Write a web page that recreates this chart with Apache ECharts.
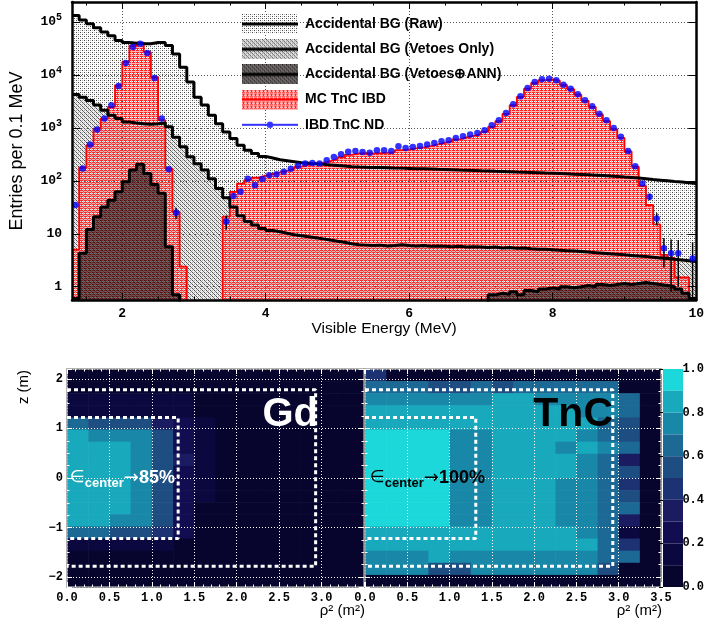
<!DOCTYPE html>
<html><head><meta charset="utf-8">
<script src="https://cdn.jsdelivr.net/npm/echarts@6/dist/echarts.min.js"></script>
<style>html,body{margin:0;padding:0;background:#fff}#c{width:707px;height:631px}</style>
</head><body><div id="c"></div>
<script>
// ---------------- DATA (top: visible energy spectrum, 0.1 MeV bins) ----------------
const binEdges = [1.3,1.4,1.5,1.6,1.7,1.8,1.9,2.0,2.1,2.2,
 2.3,2.4,2.5,2.6,2.7,2.8,2.9,3.0,3.1,3.2,
 3.3,3.4,3.5,3.6,3.7,3.8,3.9,4.0,4.1,4.2,
 4.3,4.4,4.5,4.6,4.7,4.8,4.9,5.0,5.1,5.2,
 5.3,5.4,5.5,5.6,5.7,5.8,5.9,6.0,6.1,6.2,
 6.3,6.4,6.5,6.6,6.7,6.8,6.9,7.0,7.1,7.2,
 7.3,7.4,7.5,7.6,7.7,7.8,7.9,8.0,8.1,8.2,
 8.3,8.4,8.5,8.6,8.7,8.8,8.9,9.0,9.1,9.2,
 9.3,9.4,9.5,9.6,9.7,9.8,9.9,10.0];

const accRaw = [134000,110000,93000,78000,65000,55000,45000,41000,40000,39000,
 39000,41000,41000,36000,25000,14000,7400,3800,2700,1740,
 1200,840,630,470,380,330,290,270,250,240,
 230,220,215,210,205,200,195,190,185,182,
 180,179,178,177,175,174,172,170,169,167,
 165,164,162,160,159,157,155,154,152,151,
 149,147,146,144,142,140,139,138,136,134,
 132,130,128,126,124,121,118,116,113,110,
 106,103,100,97,95,92,89];

const accVetoes = [4300,3800,3300,2700,2150,1740,1500,1300,1240,1200,
 1170,1200,1240,1050,670,440,285,210,160,110,
 72,48,32,22,17,14.6,12.6,11.5,10.9,10.2,
 9.6,9.2,8.8,8.4,8.0,7.6,7.2,6.9,6.5,6.2,
 6.1,6.0,6.1,5.9,6.0,6.2,6.0,5.9,6.0,5.8,
 5.9,5.8,5.7,5.8,5.6,5.7,5.6,5.5,5.6,5.4,
 5.5,5.3,5.4,5.2,5.1,5.1,5.0,4.9,4.8,4.7,
 4.6,4.5,4.4,4.3,4.2,4.1,4.0,3.9,3.8,3.7,
 3.6,3.5,3.4,3.3,3.2,3.1,3.0];

const accVetoANN = [0.6,4.3,12,21,32,43,62,96,160,205,
 138,85,58,5.7,0.7,0,0,0,0,0,
 0,0,0,0,0,0,0,0,0,0,
 0,0,0,0,0,0,0,0,0,0,
 0,0,0,0,0,0,0,0,0,0,
 0,0,0,0,0,0,0,0,0.7,0.75,
 0.72,0.8,0.7,0.85,0.8,0.9,0.95,0.9,1.0,0.95,
 1.0,1.05,1.0,1.1,1.05,1.1,1.15,1.1,1.15,1.2,
 1.15,1.1,1.05,1.0,0.9,0.75,0.6];

const mcTnC = [5,180,470,970,1500,2500,6400,17700,36000,41000,
 27000,9100,1400,170,26,2.4,0,0,0,0,
 0,21,62,89,103,115,125,135,145,155,
 168,185,200,210,220,235,255,280,310,330,
 335,330,335,340,345,380,395,410,430,455,
 490,525,555,610,660,710,760,850,1050,1350,
 1850,2700,3850,5500,7100,8000,8300,7800,6500,5400,
 4250,3250,2500,1800,1350,950,650,360,185,80,
 35,15,4,3.5,1.5,1.5,0];

const ibdData = [35,171,485,930,1500,2690,6200,16800,34000,39000,
 26000,8800,1500,166,25,null,null,null,null,null,
 null,17,52,62,110,83,108,128,134,148,
 170,192,212,218,212,245,283,318,353,368,
 352,338,379,379,368,451,420,438,457,485,
 521,560,585,647,697,749,805,903,1123,1396,
 1920,2800,3960,5690,7380,8280,8530,7930,6570,5520,
 4320,3330,2560,1860,1400,1000,680,368,189,89,
 50,19.5,5.3,4.3,4.3,null,3.4];

const ibdErr = [0,0,0,0,0,0,0,0,0,0,
 0,0,0,0,6,0,0,0,0,0,
 0,5,0,0,0,0,0,0,0,0,
 0,0,0,0,0,0,0,0,0,0,
 0,0,0,0,0,0,0,0,0,0,
 0,0,0,0,0,0,0,0,0,0,
 0,0,0,0,0,0,0,0,0,0,
 0,0,0,0,0,0,0,0,0,0,
 7,5,3,3.5,3.3,0,3.5];

const seriesNames = ['Accidental BG (Raw)','Accidental BG (Vetoes Only)','Accidental BG (Vetoes\u2295ANN)','MC TnC IBD','IBD TnC ND'];

// ---------------- DATA (bottom: efficiency maps) ----------------
const rhoEdges = [0,0.25,0.5,0.75,1.0,1.25,1.5,1.75,2.0,2.25,2.5,2.75,3.0,3.25,3.5];
const zEdges = [-2.2,-1.956,-1.711,-1.467,-1.222,-0.978,-0.733,-0.489,-0.244,0,
 0.244,0.489,0.733,0.978,1.222,1.467,1.711,1.956,2.2];
// rows listed from top (z = +2.2) to bottom (z = -2.2), columns rho^2 = 0 .. 3.5
const effGd = [
 [.05,.05,.05,.05,.05,.05,.05,.05,.05,.05,.05,.05,.05,.05],
 [.05,.05,.05,.05,.05,.05,.05,.05,.05,.05,.05,.05,.05,.05],
 [.12,.12,.12,.12,.12,.12,.05,.05,.05,.05,.05,.05,.05,.05],
 [.18,.18,.18,.18,.12,.12,.08,.05,.05,.05,.05,.05,.05,.05],
 [.65,.55,.55,.55,.32,.22,.12,.05,.05,.05,.05,.05,.05,.05],
 [.85,.75,.75,.75,.55,.25,.14,.08,.05,.05,.05,.05,.05,.05],
 [.85,.85,.85,.75,.55,.25,.15,.08,.05,.05,.05,.05,.05,.05],
 [.85,.85,.85,.75,.55,.35,.15,.08,.05,.05,.05,.05,.05,.05],
 [.85,.85,.85,.75,.55,.25,.14,.08,.05,.05,.05,.05,.05,.05],
 [.85,.85,.85,.75,.55,.25,.12,.05,.05,.05,.05,.05,.05,.05],
 [.85,.85,.85,.75,.55,.25,.12,.05,.05,.05,.05,.05,.05,.05],
 [.85,.85,.85,.75,.55,.25,.10,.05,.05,.05,.05,.05,.05,.05],
 [.85,.85,.75,.75,.55,.22,.10,.05,.05,.05,.05,.05,.05,.05],
 [.65,.65,.55,.55,.45,.25,.08,.05,.05,.05,.05,.05,.05,.05],
 [.15,.15,.15,.15,.12,.08,.05,.05,.05,.05,.05,.05,.05,.05],
 [.05,.05,.05,.05,.05,.05,.05,.05,.05,.05,.05,.05,.05,.05],
 [.05,.05,.05,.05,.05,.05,.05,.05,.05,.05,.05,.05,.05,.05],
 [.05,.05,.05,.05,.05,.05,.05,.05,.05,.05,.05,.05,.05,.05]];
const effTnC = [
 [.45,.05,.05,.05,.05,.05,.05,.05,.05,.05,.05,.05,.05,.05],
 [.65,.65,.65,.55,.55,.65,.55,.65,.65,.65,.65,.65,.05,.05],
 [.75,.75,.75,.75,.75,.75,.85,.85,.75,.75,.75,.75,.65,.05],
 [.85,.85,.85,.85,.85,.85,.85,.85,.85,.85,.75,.75,.65,.05],
 [.85,.85,.85,.85,.85,.85,.85,.85,.85,.85,.85,.65,.55,.05],
 [.95,.95,.95,.95,.75,.75,.85,.85,.85,.85,.75,.65,.55,.05],
 [.95,.95,.95,.95,.75,.75,.85,.85,.85,.75,.85,.75,.65,.05],
 [.95,.95,.95,.95,.75,.75,.85,.85,.85,.85,.75,.65,.35,.05],
 [.95,.95,.95,.95,.75,.75,.85,.85,.85,.85,.75,.65,.55,.05],
 [.95,.95,.95,.95,.75,.75,.85,.85,.85,.75,.75,.65,.45,.05],
 [.95,.95,.95,.95,.75,.75,.85,.85,.85,.75,.75,.65,.55,.05],
 [.95,.95,.95,.95,.75,.75,.85,.85,.85,.75,.75,.65,.65,.05],
 [.95,.95,.95,.95,.75,.75,.85,.85,.85,.75,.75,.65,.35,.05],
 [.85,.85,.85,.85,.85,.85,.85,.85,.85,.85,.75,.65,.12,.05],
 [.85,.85,.85,.85,.85,.85,.85,.85,.85,.85,.85,.65,.45,.05],
 [.75,.75,.75,.85,.75,.75,.75,.75,.75,.75,.75,.65,.65,.05],
 [.75,.75,.75,.55,.55,.75,.75,.75,.75,.75,.75,.55,.05,.05],
 [.05,.05,.05,.05,.05,.05,.05,.05,.05,.05,.05,.05,.05,.05]];
const fvOuter = {rho2: 2.93, z: 1.78};
const fvInner = {rho2: 1.31, z: 1.22};
const colorLevels = [0,0.1,0.2,0.3,0.4,0.5,0.6,0.7,0.8,0.9,1.0];
const palette = ['#07042e','#0b0840','#120d50','#1a1b60','#1d3272','#1e4d82','#1b6994','#1988a8','#19a9bd','#1dd8da'];

// ---------------- STYLE HELPERS ----------------
function tile(size, draw){const c=document.createElement('canvas');c.width=c.height=size;const g=c.getContext('2d');draw(g);return c;}
const rawTile = tile(4,g=>{g.fillStyle='#444';g.fillRect(0,0,1,1);g.fillRect(2,2,1,1);g.fillStyle='#b4b4b4';g.fillRect(0,2,1,1);g.fillRect(2,0,1,1);});
const vetoTile = tile(4,g=>{g.fillStyle='rgba(120,120,120,0.12)';g.fillRect(0,0,4,4);g.fillStyle='#7a7a7a';g.fillRect(1,1,1,1);g.fillRect(3,3,1,1);});
const annTile = tile(4,g=>{g.fillStyle='rgba(34,24,24,0.62)';g.fillRect(0,0,4,4);g.fillStyle='rgba(0,0,0,0.45)';g.fillRect(0,0,1,1);g.fillRect(2,2,1,1);});
const mcTile = tile(4,g=>{g.fillStyle='#ff2424';g.fillRect(0,0,3,1);g.fillRect(0,2,3,1);g.fillRect(1,1,1,1);g.fillStyle='rgba(255,40,40,0.35)';g.fillRect(0,3,4,1);g.fillRect(3,0,1,3);});
const pat = t => ({image:t, repeat:'repeat'});

function icon(draw){const c=document.createElement('canvas');c.width=56;c.height=20;const g=c.getContext('2d');draw(g);return 'image://'+c.toDataURL();}
function fillPat(g,t){g.fillStyle=g.createPattern(t,'repeat');g.fillRect(0,0,56,20);}
const icRaw = icon(g=>{g.fillStyle='#fff';g.fillRect(0,0,56,20);fillPat(g,rawTile);g.fillStyle='#000';g.fillRect(0,8.5,56,3);});
const icVeto = icon(g=>{g.fillStyle='#fff';g.fillRect(0,0,56,20);fillPat(g,rawTile);fillPat(g,vetoTile);fillPat(g,vetoTile);g.fillStyle='#000';g.fillRect(0,8.5,56,3);});
const icAnn = icon(g=>{g.fillStyle='#fff';g.fillRect(0,0,56,20);fillPat(g,rawTile);fillPat(g,vetoTile);fillPat(g,annTile);g.fillStyle='#000';g.fillRect(0,8.5,56,3);});
const icMC = icon(g=>{g.fillStyle='#fff';g.fillRect(0,0,56,20);fillPat(g,mcTile);g.fillStyle='#ff0000';g.fillRect(0,9,56,2);});
const icIBD = icon(g=>{g.fillStyle='#0000ff';g.fillRect(0,9,56,2);g.beginPath();g.arc(28,10,3.2,0,Math.PI*2);g.fill();});

const EMPTY = 0.01;
const hist = vals => binEdges.map((e,i)=>[e, (v=> v>0? v: EMPTY)(vals[Math.min(i, vals.length-1)])]);
const centers = binEdges.slice(0,-1).map((e,i)=>(e+binEdges[i+1])/2);

function areaSeries(name, vals, t, z){
  return {type:'line', name, data:hist(vals), step:'end', symbol:'none', silent:true, z,
    lineStyle:{width:0}, areaStyle:{color:pat(t), opacity:1, origin:'start'}, xAxisIndex:0, yAxisIndex:0};
}
function lineSeries(name, vals, color, w, z){
  return {type:'line', name, data:hist(vals), step:'end', symbol:'none', silent:true, z,
    lineStyle:{color, width:w}, itemStyle:{color}, xAxisIndex:0, yAxisIndex:0};
}

function cells(rows){
  const out=[];
  rows.forEach((row,r)=>{const zi = zEdges.length-2-r;
    row.forEach((v,c)=>out.push([rhoEdges[c], zEdges[zi], rhoEdges[c+1], zEdges[zi+1], v]));});
  return out;
}
function cellRender(params, api){
  const p0 = api.coord([api.value(0), api.value(3)]);
  const p1 = api.coord([api.value(2), api.value(1)]);
  return {type:'rect', shape:{x:p0[0], y:p0[1], width:p1[0]-p0[0]+0.6, height:p1[1]-p0[1]+0.6},
    style:{fill: api.visual('color')}};
}
const fvPath = fv => [[0, fv.z],[fv.rho2, fv.z],[fv.rho2, -fv.z],[0, -fv.z]];
function fvSeries(fv, xi){
  return {type:'line', data:fvPath(fv), xAxisIndex:xi, yAxisIndex:xi, symbol:'none', silent:true, z:6,
    lineStyle:{color:'#fff', width:3, type:[4,3]}};
}

const MONO='Liberation Mono', SANS='Liberation Sans';
const tickLbl = {color:'#000', fontFamily:MONO, fontWeight:'bold', fontSize:13};

const xTop = {type:'value', gridIndex:0, min:1.3, max:10};
const yTop = {type:'log', logBase:10, gridIndex:0, min:0.56, max:240000};
const frameLine = {show:true, onZero:false, lineStyle:{color:'#000', width:2.5}};

function hmX(gi, pos, labels, hideMax){
  return {type:'value', gridIndex:gi, position:pos, min:0, max:3.5, interval:0.5, z:5,
    axisLine:{show:true, onZero:false, lineStyle:{color:'#9a9a9a', width:1.5}},
    axisTick:{show:true, inside:true, length:5, lineStyle:{color:'#fff'}},
    minorTick:{show:true, splitNumber:5, length:2.5, lineStyle:{color:'#fff'}},
    splitLine:{show: pos==='bottom', lineStyle:{color:'#fff', type:[1,2], width:1}},
    axisLabel: labels ? {...tickLbl, fontSize:12, margin:5, formatter:v=>v.toFixed(1), showMaxLabel: !hideMax} : {show:false}};
}
function hmY(gi, pos, labels){
  return {type:'value', gridIndex:gi, position:pos, min:-2.2, max:2.2, z:5,
    axisLine:{show:true, onZero:false, lineStyle:{color:'#9a9a9a', width:1.5}},
    axisTick:{show:true, inside:true, length:5, lineStyle:{color:'#fff'}},
    minorTick:{show:true, splitNumber:4, length:2.5, lineStyle:{color:'#fff'}},
    splitLine:{show: pos==='left', lineStyle:{color:'#fff', type:[1,2], width:1}},
    axisLabel: labels ? {...tickLbl, fontSize:12, margin:4, showMinLabel:false, showMaxLabel:false,
      formatter:v=>String(v).replace('-', '\u2212')} : {show:false}};
}

const option = {
  animation:false,
  backgroundColor:'#fff',
  grid:[
    {left:70, top:2, width:630, height:298},
    {left:67, top:369, width:297, height:218},
    {left:365, top:369, width:296, height:218},
    {left:663, top:369, width:20, height:218}
  ],
  legend:{
    orient:'vertical', left:237, top:9, itemWidth:56, itemHeight:20, itemGap:5.2,
    textStyle:{fontFamily:SANS, fontWeight:'bold', fontSize:14, color:'#000', padding:[0,0,0,2]},
    selectedMode:false,
    data:[
      {name:seriesNames[0], icon:icRaw},
      {name:seriesNames[1], icon:icVeto},
      {name:seriesNames[2], icon:icAnn},
      {name:seriesNames[3], icon:icMC},
      {name:seriesNames[4], icon:icIBD}
    ]
  },
  xAxis:[
    {...xTop, position:'bottom', axisLine:{show:false}, axisTick:{show:false},
      splitLine:{show:true, lineStyle:{color:'#555', type:[1,2], width:1}},
      axisLabel:{...tickLbl, margin:7, showMinLabel:false},
      name:'Visible Energy (MeV)', nameLocation:'middle', nameGap:17,
      nameTextStyle:{fontFamily:SANS, fontSize:15.5, color:'#000'}},
    {...xTop, position:'bottom', z:10, axisLine:frameLine,
      axisTick:{show:true, inside:true, length:7, lineStyle:{color:'#000'}},
      minorTick:{show:true, splitNumber:4, length:3.5, lineStyle:{color:'#000'}},
      axisLabel:{show:false}, splitLine:{show:false}},
    {...xTop, position:'top', z:10, axisLine:frameLine,
      axisTick:{show:true, inside:true, length:7, lineStyle:{color:'#000'}},
      minorTick:{show:true, splitNumber:4, length:3.5, lineStyle:{color:'#000'}},
      axisLabel:{show:false}, splitLine:{show:false}},
    hmX(1,'bottom',true,true), hmX(1,'top',false),
    hmX(2,'bottom',true,false), hmX(2,'top',false),
    {type:'value', gridIndex:3, min:0, max:1, show:false}
  ],
  yAxis:[
    {...yTop, position:'left', axisLine:{show:false}, axisTick:{show:false},
      splitLine:{show:true, lineStyle:{color:'#555', type:[1,2], width:1}},
      axisLabel:{...tickLbl, margin:10, showMinLabel:false, showMaxLabel:false,
        formatter:v=>{const n=Math.round(Math.log10(v)); return n>=2 ? '10{s|'+n+'}' : String(Math.round(v));},
        rich:{s:{fontSize:10, fontFamily:MONO, fontWeight:'bold', color:'#000', padding:[0,0,9,0]}}},
      name:'Entries per 0.1 MeV', nameLocation:'middle', nameGap:46,
      nameTextStyle:{fontFamily:SANS, fontSize:18, color:'#000'}},
    {...yTop, position:'left', z:10, axisLine:frameLine,
      axisTick:{show:true, inside:true, length:8, lineStyle:{color:'#000'}},
      axisLabel:{show:false}, splitLine:{show:false}},
    {...yTop, position:'right', z:10, axisLine:frameLine,
      axisTick:{show:true, inside:true, length:8, lineStyle:{color:'#000'}},
      axisLabel:{show:false}, splitLine:{show:false}},
    hmY(1,'left',true), hmY(1,'right',false),
    hmY(2,'left',false), hmY(2,'right',false),
    {type:'value', gridIndex:3, position:'right', min:0, max:1, interval:0.2, z:10,
      axisLine:{show:false}, splitLine:{show:false},
      axisTick:{show:true, inside:true, length:4, lineStyle:{color:'#000'}},
      axisLabel:{...tickLbl, fontSize:12, margin:3, formatter:v=>v.toFixed(1)}}
  ],
  visualMap:{
    type:'piecewise', dimension:4, seriesIndex:[10,11],
    pieces: palette.map((c,i)=>({min:colorLevels[i], max:colorLevels[i+1], color:c})),
    left:663, top:369, itemWidth:20, itemHeight:21.8, itemGap:0, padding:0,
    showLabel:false, itemSymbol:'rect', orient:'vertical', hoverLink:false, selectedMode:false
  },
  series:[
    areaSeries(seriesNames[0], accRaw, rawTile, 1),
    areaSeries(seriesNames[3], mcTnC, mcTile, 2),
    areaSeries(seriesNames[1], accVetoes, vetoTile, 3),
    areaSeries(seriesNames[2], accVetoANN, annTile, 4),
    lineSeries(seriesNames[3], mcTnC, '#ff0000', 1.8, 5),
    lineSeries(seriesNames[0], accRaw, '#000', 3, 6),
    lineSeries(seriesNames[1], accVetoes, '#000', 3, 6),
    lineSeries(seriesNames[2], accVetoANN, '#000', 3, 6),
    {type:'custom', name:'err', xAxisIndex:0, yAxisIndex:0, z:7, silent:true, clip:true,
      data: centers.map((c,i)=>[c, ibdData[i], ibdErr[i]]).filter(d=>d[1]!=null && d[2]>0),
      encode:{x:0, y:1},
      renderItem:(p,api)=>{const x=api.value(0), v=api.value(1), e=api.value(2);
        const a=api.coord([x, v+e]), b=api.coord([x, Math.max(v-e, 0.57)]);
        return {type:'line', shape:{x1:a[0],y1:a[1],x2:b[0],y2:b[1]}, style:{stroke:'#000', lineWidth:1.5}};}},
    {type:'scatter', name:seriesNames[4], xAxisIndex:0, yAxisIndex:0, z:8, silent:true,
      data: centers.map((c,i)=>[c, ibdData[i]]).filter(d=>d[1]!=null),
      symbol:'circle', symbolSize:6.5, itemStyle:{color:'#0000ff'}},
    {type:'custom', xAxisIndex:3, yAxisIndex:3, data:cells(effGd), renderItem:cellRender, encode:{x:[0,2], y:[1,3]}, z:2, silent:true},
    {type:'custom', xAxisIndex:5, yAxisIndex:5, data:cells(effTnC), renderItem:cellRender, encode:{x:[0,2], y:[1,3]}, z:2, silent:true},
    fvSeries(fvOuter,3), fvSeries(fvInner,3), fvSeries(fvOuter,5), fvSeries(fvInner,5)
  ],
  graphic:[
    {type:'text', x:318, y:415, z:100, style:{text:'Gd', fill:'#fff', font:'bold 40px "Liberation Sans"', align:'right', verticalAlign:'middle'}},
    {type:'text', x:613, y:415, z:100, style:{text:'TnC', fill:'#000', font:'bold 41px "Liberation Sans"', align:'right', verticalAlign:'middle'}},
    {type:'text', x:70, y:478, z:100, style:{text:'{e|\u2208}{sub|center}{arr|\u2192}{big|85%}', fill:'#fff', align:'left', verticalAlign:'middle',
      rich:{e:{fontSize:17, fontFamily:'DejaVu Sans', fill:'#fff'}, sub:{fontSize:13, fontWeight:'bold', fontFamily:SANS, padding:[10,0,0,0], fill:'#fff'},
            arr:{fontSize:18, fontFamily:'DejaVu Sans', fill:'#fff'}, big:{fontSize:18, fontWeight:'bold', fontFamily:SANS, fill:'#fff'}}}},
    {type:'text', x:370, y:478, z:100, style:{text:'{e|\u2208}{sub|center}{arr|\u2192}{big|100%}', fill:'#000', align:'left', verticalAlign:'middle',
      rich:{e:{fontSize:17, fontFamily:'DejaVu Sans', fill:'#000'}, sub:{fontSize:13, fontWeight:'bold', fontFamily:SANS, padding:[10,0,0,0], fill:'#000'},
            arr:{fontSize:18, fontFamily:'DejaVu Sans', fill:'#000'}, big:{fontSize:18, fontWeight:'bold', fontFamily:SANS, fill:'#000'}}}},
    {type:'text', x:24, y:387, rotation:Math.PI/2, z:100, style:{text:'z (m)', fill:'#000', font:'15px "Liberation Sans"', align:'center', verticalAlign:'middle'}},
    {type:'text', x:365, y:611, z:100, style:{text:'\u03c1\u00b2 (m\u00b2)', fill:'#000', font:'15px "Liberation Sans"', align:'right', verticalAlign:'middle'}},
    {type:'text', x:662, y:611, z:100, style:{text:'\u03c1\u00b2 (m\u00b2)', fill:'#000', font:'15px "Liberation Sans"', align:'right', verticalAlign:'middle'}}
  ]
};
const chart = echarts.init(document.getElementById('c'), null, {renderer:'canvas', width:707, height:631});
chart.setOption(option);
</script></body></html>
